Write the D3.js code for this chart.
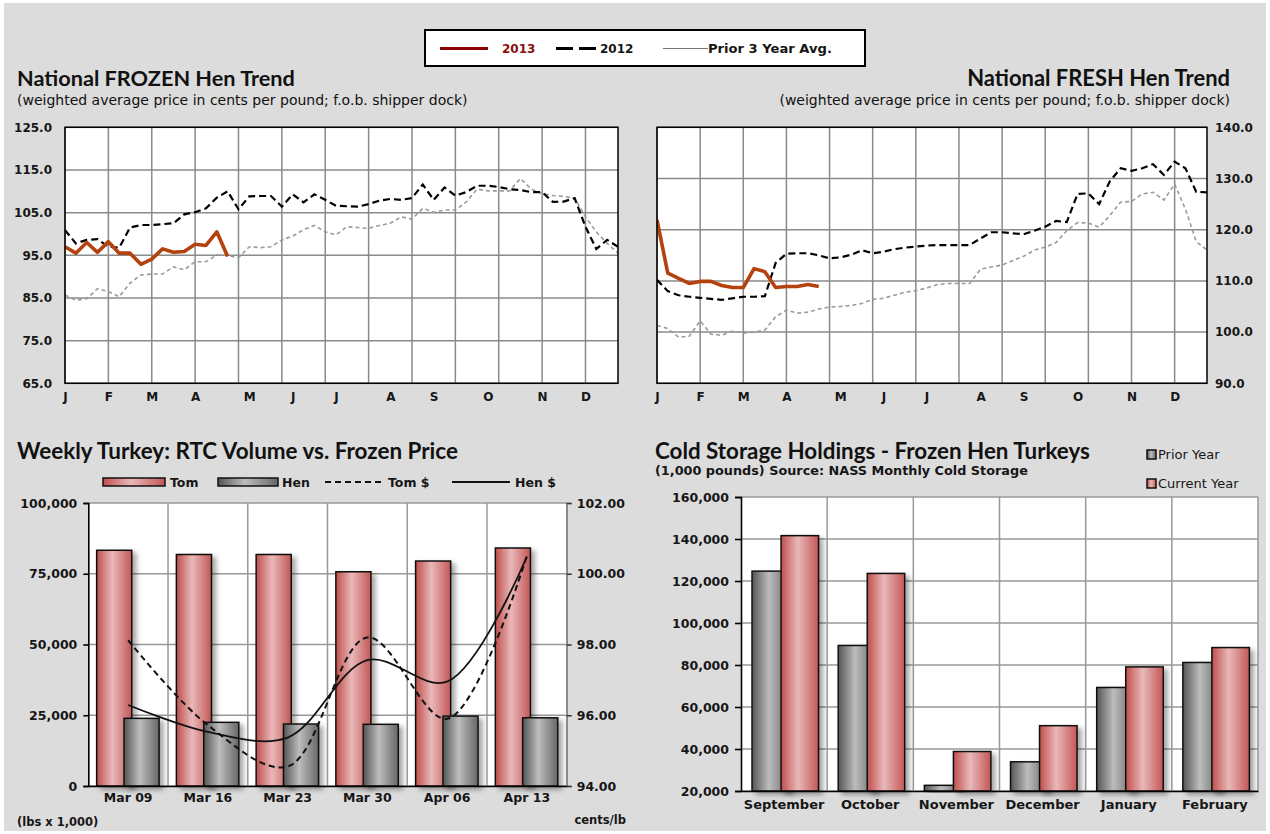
<!DOCTYPE html>
<html lang="en">
<head>
<meta charset="UTF-8">
<title>Turkey Hen Market Charts</title>
<script src="https://d3js.org/d3.v7.min.js"></script>
<style>
  body { margin: 0; background: #fff; }
  svg { display: block; font-family: "DejaVu Sans", sans-serif; }
  .lbl { font-weight: bold; fill: #161616; }
  .title { font-family: Lato, "DejaVu Sans", sans-serif; font-weight: bold; fill: #111; }
</style>
</head>
<body>
<div id="chart"></div>
<script>
// ---- weekly hen prices (index = week of year, 0..51) ----
const monthLabels = ["J", "F", "M", "A", "M", "J", "J", "A", "S", "O", "N", "D"];
const monthWeeks = [0, 4, 8, 12, 17, 21, 25, 30, 34, 39, 44, 48];
const frozenTicks = [65, 75, 85, 95, 105, 115, 125];
const freshTicks = [90, 100, 110, 120, 130, 140];

const frozen2013 = [97.0, 95.5, 98.0, 95.7, 98.2, 95.5, 95.5, 92.9, 94.1, 96.5, 95.7, 95.9, 97.6, 97.3, 100.5, 94.7];
const frozen2012 = [100.9, 97.8, 98.6, 98.8, 97.0, 96.8, 101.5, 102.1, 102.1, 102.3, 102.5, 104.6, 105.1, 106.0, 108.5, 110.0,
  105.8, 108.8, 108.9, 108.9, 106.4, 109.3, 107.4, 109.3, 108.0, 106.6, 106.5, 106.4, 107.0, 107.8, 108.2, 108.0, 108.4,
  111.6, 108.0, 110.9, 109.0, 109.8, 111.3, 111.3, 111.0, 110.5, 110.3, 109.8, 109.8, 107.5, 107.6, 108.4, 101.7, 96.5, 98.6, 97.0];
const frozen3yr = [85.7, 84.5, 84.8, 87.2, 86.5, 85.3, 88.5, 90.4, 90.6, 90.6, 92.3, 91.6, 93.5, 93.5, 95.1, 95.0,
  94.4, 97.0, 96.8, 97.0, 98.6, 99.5, 101.0, 102.0, 100.5, 99.8, 101.7, 101.5, 101.3, 102.0, 102.5, 104.0, 103.5,
  106.0, 105.1, 105.6, 105.6, 107.5, 110.5, 110.1, 110.1, 110.1, 113.0, 110.5, 109.5, 109.0, 108.8, 108.4, 104.0, 100.5, 97.8, 95.5];

const fresh2013 = [121.9, 111.5, 110.5, 109.5, 109.9, 109.9, 109.1, 108.7, 108.7, 112.4, 111.8, 108.7, 108.9, 108.9, 109.3, 108.9];
const fresh2012 = [110.2, 108.0, 107.2, 106.9, 106.7, 106.5, 106.3, 106.6, 106.9, 106.9, 107.0, 113.5, 115.3, 115.4, 115.4, 115.0,
  114.4, 114.6, 115.1, 116.0, 115.4, 115.7, 116.2, 116.5, 116.7, 116.9, 117.0, 117.0, 117.0, 117.0, 118.3, 119.5, 119.5,
  119.3, 119.1, 119.8, 120.6, 121.7, 121.5, 127.0, 127.1, 125.0, 129.5, 132.0, 131.5, 132.0, 132.8, 130.7, 133.3, 132.0, 127.4, 127.3];
const fresh3yr = [101.3, 100.7, 99.0, 99.2, 102.2, 99.6, 99.4, 100.2, 99.8, 100.0, 100.4, 103.0, 104.3, 103.7, 103.9, 104.5,
  104.9, 105.0, 105.2, 105.6, 106.4, 106.6, 107.2, 107.8, 108.1, 108.6, 109.3, 109.5, 109.5, 109.5, 112.3, 112.7, 113.1,
  114.0, 114.8, 116.0, 116.6, 117.5, 119.8, 121.4, 121.3, 120.5, 122.8, 125.4, 125.5, 127.0, 127.3, 125.8, 128.9, 124.0, 117.7, 116.0];

// ---- weekly RTC volume vs frozen price ----
const weekCats = ["Mar 09", "Mar 16", "Mar 23", "Mar 30", "Apr 06", "Apr 13"];
const tomVolume = [83300, 81800, 81800, 75700, 79500, 84100];
const henVolume = [23900, 22500, 21900, 21800, 24700, 24100];
const tomPrice = [98.12, 95.72, 94.55, 98.20, 95.90, 100.50];
const henPrice = [96.29, 95.53, 95.37, 97.56, 96.95, 100.48];
const volumeTicks = [0, 25000, 50000, 75000, 100000];
const priceTicks = [94, 96, 98, 100, 102];

// ---- cold storage ----
const storageMonths = ["September", "October", "November", "December", "January", "February"];
const priorYear = [124700, 89300, 22700, 33900, 69300, 81200];
const currentYear = [141600, 123600, 38800, 51100, 79100, 88300];
const storageTicks = [20000, 40000, 60000, 80000, 100000, 120000, 140000, 160000];

const W = 1270, H = 834;
const svg = d3.select("#chart").append("svg").attr("width", W).attr("height", H);

svg.append("rect").attr("x", 4).attr("y", 3).attr("width", W - 8).attr("height", H - 6).attr("fill", "#dcdcdc");

// gradients + shadow
const defs = svg.append("defs");
function gradient(id, stops) {
  const gr = defs.append("linearGradient").attr("id", id).attr("x1", 0).attr("x2", 1).attr("y1", 0).attr("y2", 0);
  stops.forEach(s => gr.append("stop").attr("offset", s[0]).attr("stop-color", s[1]));
}
gradient("pink", [["0%", "#bf4f4c"], ["45%", "#e9b8b9"], ["100%", "#c35755"]]);
gradient("gray", [["0%", "#555"], ["45%", "#bdbdbd"], ["100%", "#666"]]);
defs.append("filter").attr("id", "shadow").attr("x", "-20%").attr("y", "-10%").attr("width", "160%").attr("height", "130%")
  .append("feDropShadow").attr("dx", 4).attr("dy", 3).attr("stdDeviation", 2.5)
  .attr("flood-color", "#000").attr("flood-opacity", 0.35);

// scale a text's font size so it spans the given width
function fitText(sel, width) {
  const w = sel.node().getComputedTextLength();
  const fs = parseFloat(sel.style("font-size"));
  sel.style("font-size", (fs * width / w).toFixed(2) + "px");
  return sel;
}

function addText(x, y, str, cls, size, anchor, width) {
  const t = svg.append("text").attr("class", cls).attr("x", x).attr("y", y)
    .attr("text-anchor", anchor || "start").style("font-size", size + "px").text(str);
  if (width) fitText(t, width);
  return t;
}

// ---- top legend ----
svg.append("rect").attr("x", 425).attr("y", 30).attr("width", 440).attr("height", 36)
  .attr("fill", "#fff").attr("stroke", "#000").attr("stroke-width", 2);
svg.append("line").attr("x1", 440).attr("x2", 488).attr("y1", 48.5).attr("y2", 48.5)
  .attr("stroke", "#8b0000").attr("stroke-width", 3);
addText(502, 53, "2013", "lbl", 12).style("fill", "#8b1010");
svg.append("line").attr("x1", 556).attr("x2", 597).attr("y1", 48.5).attr("y2", 48.5)
  .attr("stroke", "#000").attr("stroke-width", 3).attr("stroke-dasharray", "17,6");
addText(600, 53, "2012", "lbl", 12);
svg.append("line").attr("x1", 663).attr("x2", 708).attr("y1", 48.5).attr("y2", 48.5)
  .attr("stroke", "#777").attr("stroke-width", 1.2);
addText(708, 53, "Prior 3 Year Avg.", "lbl", 12, "start", 124);

// ---- trend charts ----
function trendChart(o) {
  const x = d3.scaleLinear().domain([0, 51]).range([o.left, o.right]);
  const y = d3.scaleLinear().domain([o.ticks[0], o.ticks[o.ticks.length - 1]]).range([o.bottom, o.top]);
  const g = svg.append("g");

  g.append("rect").attr("x", o.left).attr("y", o.top).attr("width", o.right - o.left)
    .attr("height", o.bottom - o.top).attr("fill", "#fff");

  g.selectAll(".hg").data(o.ticks).join("line")
    .attr("x1", o.left).attr("x2", o.right).attr("y1", d => y(d)).attr("y2", d => y(d))
    .attr("stroke", "#8a8a8a").attr("stroke-width", 1.5);
  g.selectAll(".vg").data(d3.range(0, 51, 4)).join("line")
    .attr("x1", d => x(d)).attr("x2", d => x(d)).attr("y1", o.top).attr("y2", o.bottom)
    .attr("stroke", "#8a8a8a").attr("stroke-width", 1.5);

  const clipId = "clip" + o.left;
  defs.append("clipPath").attr("id", clipId).append("rect")
    .attr("x", o.left).attr("y", o.top).attr("width", o.right - o.left).attr("height", o.bottom - o.top);

  const line = d3.line().x((d, i) => x(i)).y(d => y(d));
  const lines = g.append("g").attr("clip-path", `url(#${clipId})`);
  lines.append("path").attr("d", line(o.avg)).attr("fill", "none")
    .attr("stroke", "#9b9b9b").attr("stroke-width", 1.6).attr("stroke-dasharray", "4,3");
  lines.append("path").attr("d", line(o.prev)).attr("fill", "none")
    .attr("stroke", "#000").attr("stroke-width", 2.2).attr("stroke-dasharray", "7,4");
  lines.append("path").attr("d", line(o.cur)).attr("fill", "none")
    .attr("stroke", "#b4420e").attr("stroke-width", 3.6).attr("stroke-linejoin", "round");

  g.append("rect").attr("x", o.left).attr("y", o.top).attr("width", o.right - o.left)
    .attr("height", o.bottom - o.top).attr("fill", "none").attr("stroke", "#000").attr("stroke-width", 1.5);

  const yAxis = (o.side === "left" ? d3.axisLeft(y) : d3.axisRight(y))
    .tickValues(o.ticks).tickFormat(d3.format(".1f")).tickSize(0).tickPadding(o.side === "left" ? 13 : 8);
  g.append("g").attr("transform", `translate(${o.side === "left" ? o.left : o.right},0)`).call(yAxis)
    .call(a => a.select(".domain").remove())
    .selectAll("text").attr("class", "lbl").style("font-size", "12px").style("font-family", "DejaVu Sans");

  g.append("g").attr("transform", `translate(0,${o.bottom})`)
    .call(d3.axisBottom(x).tickValues(monthWeeks).tickFormat((d, i) => monthLabels[i]).tickSize(0).tickPadding(9))
    .call(a => a.select(".domain").remove())
    .selectAll("text").attr("class", "lbl").style("font-size", "12px").style("font-family", "DejaVu Sans");
}

trendChart({ left: 65, right: 618, top: 127.3, bottom: 383.3, ticks: frozenTicks, side: "left",
  cur: frozen2013, prev: frozen2012, avg: frozen3yr });
trendChart({ left: 657, right: 1207, top: 127.3, bottom: 383.3, ticks: freshTicks, side: "right",
  cur: fresh2013, prev: fresh2012, avg: fresh3yr });

addText(17, 86, "National FROZEN Hen Trend", "title", 18, "start", 278);
addText(17, 105, "(weighted average price in cents per pound; f.o.b. shipper dock)", "", 11, "start", 451).style("fill", "#111");
addText(1230, 86, "National FRESH Hen Trend", "title", 18, "end", 263);
addText(1230, 105, "(weighted average price in cents per pound; f.o.b. shipper dock)", "", 11, "end", 451).style("fill", "#111");

// ---- weekly RTC volume vs frozen price ----
(function () {
  const left = 88.3, right = 566.7, top = 503, bottom = 786;
  const x = d3.scaleBand().domain(weekCats).range([left, right]);
  const bw = x.bandwidth();
  const yL = d3.scaleLinear().domain([0, 100000]).range([bottom, top]);
  const yR = d3.scaleLinear().domain([94, 102]).range([bottom, top]);
  const g = svg.append("g");

  g.append("rect").attr("x", left).attr("y", top).attr("width", right - left).attr("height", bottom - top).attr("fill", "#fff");
  g.selectAll(".hg").data(volumeTicks).join("line")
    .attr("x1", left).attr("x2", right).attr("y1", d => yL(d)).attr("y2", d => yL(d))
    .attr("stroke", "#999").attr("stroke-width", 1.5);
  g.selectAll(".vg").data(weekCats.slice(1).map(c => x(c)).concat([right])).join("line")
    .attr("x1", d => d).attr("x2", d => d).attr("y1", top).attr("y2", bottom)
    .attr("stroke", "#999").attr("stroke-width", 1.5);

  g.selectAll(".tom").data(tomVolume).join("rect")
    .attr("x", (d, i) => x(weekCats[i]) + bw * 0.105).attr("width", bw * 0.44)
    .attr("y", d => yL(d)).attr("height", d => bottom - yL(d))
    .attr("fill", "url(#pink)").attr("stroke", "#111").attr("stroke-width", 1.5).attr("filter", "url(#shadow)");
  g.selectAll(".hen").data(henVolume).join("rect")
    .attr("x", (d, i) => x(weekCats[i]) + bw * 0.448).attr("width", bw * 0.44)
    .attr("y", d => yL(d)).attr("height", d => bottom - yL(d))
    .attr("fill", "url(#gray)").attr("stroke", "#111").attr("stroke-width", 1.5).attr("filter", "url(#shadow)");

  const line = d3.line().curve(d3.curveCatmullRom.alpha(0.5))
    .x((d, i) => x(weekCats[i]) + bw / 2).y(d => yR(d));
  g.append("path").attr("d", line(tomPrice)).attr("fill", "none")
    .attr("stroke", "#111").attr("stroke-width", 2).attr("stroke-dasharray", "6,4");
  g.append("path").attr("d", line(henPrice)).attr("fill", "none")
    .attr("stroke", "#111").attr("stroke-width", 1.8);

  g.append("g").attr("transform", `translate(${right},0)`)
    .call(d3.axisRight(yR).tickValues(priceTicks).tickFormat(d3.format(".2f")).tickSize(5).tickPadding(5))
    .call(a => a.select(".domain").attr("stroke", "#888").attr("stroke-width", 1.5))
    .call(a => a.selectAll("line").attr("stroke", "#333").attr("stroke-width", 1.5))
    .selectAll("text").attr("class", "lbl").style("font-size", "12.5px").style("font-family", "DejaVu Sans");
  g.append("g").attr("transform", `translate(${left},0)`)
    .call(d3.axisLeft(yL).tickValues(volumeTicks).tickFormat(d3.format(",")).tickSize(5).tickPadding(6))
    .call(a => a.selectAll("path,line").attr("stroke", "#000").attr("stroke-width", 1.6))
    .selectAll("text").attr("class", "lbl").style("font-size", "12.5px").style("font-family", "DejaVu Sans");
  g.append("g").attr("transform", `translate(0,${bottom})`)
    .call(d3.axisBottom(x).tickSize(0).tickPadding(7))
    .call(a => a.select(".domain").attr("stroke", "#000").attr("stroke-width", 1.6))
    .selectAll("text").attr("class", "lbl").style("font-size", "12.5px").style("font-family", "DejaVu Sans");

  // legend
  const ly = 482;
  g.append("rect").attr("x", 103).attr("y", ly - 4).attr("width", 62).attr("height", 8)
    .attr("fill", "url(#pink)").attr("stroke", "#111").attr("stroke-width", 1.5);
  addText(170, ly + 4.5, "Tom", "lbl", 12.5);
  g.append("rect").attr("x", 218).attr("y", ly - 4).attr("width", 60).attr("height", 8)
    .attr("fill", "url(#gray)").attr("stroke", "#111").attr("stroke-width", 1.5);
  addText(282, ly + 4.5, "Hen", "lbl", 12.5);
  g.append("line").attr("x1", 325).attr("x2", 383).attr("y1", ly).attr("y2", ly)
    .attr("stroke", "#111").attr("stroke-width", 1.8).attr("stroke-dasharray", "6,4");
  addText(388, ly + 4.5, "Tom $", "lbl", 12.5);
  g.append("line").attr("x1", 452).attr("x2", 510).attr("y1", ly).attr("y2", ly)
    .attr("stroke", "#111").attr("stroke-width", 1.8);
  addText(515, ly + 4.5, "Hen $", "lbl", 12.5);

  addText(17, 826, "(lbs x 1,000)", "lbl", 11.5);
  addText(626, 824, "cents/lb", "lbl", 11.5, "end");
})();
addText(17, 459, "Weekly Turkey: RTC Volume vs. Frozen Price", "title", 18, "start", 441);

// ---- cold storage ----
(function () {
  const left = 741, right = 1258, top = 497, bottom = 791;
  const x = d3.scaleBand().domain(storageMonths).range([left, right]);
  const bw = x.bandwidth();
  const y = d3.scaleLinear().domain([20000, 160000]).range([bottom, top]);
  const g = svg.append("g");

  g.append("rect").attr("x", left).attr("y", top).attr("width", right - left).attr("height", bottom - top).attr("fill", "#fff");
  g.selectAll(".hg").data(storageTicks).join("line")
    .attr("x1", left).attr("x2", right).attr("y1", d => y(d)).attr("y2", d => y(d))
    .attr("stroke", "#999").attr("stroke-width", 1.5);
  g.selectAll(".vg").data(storageMonths.slice(1).map(c => x(c)).concat([right])).join("line")
    .attr("x1", d => d).attr("x2", d => d).attr("y1", top).attr("y2", bottom)
    .attr("stroke", "#999").attr("stroke-width", 1.5);

  g.selectAll(".prior").data(priorYear).join("rect")
    .attr("x", (d, i) => x(storageMonths[i]) + bw * 0.128).attr("width", bw * 0.435)
    .attr("y", d => y(d)).attr("height", d => bottom - y(d))
    .attr("fill", "url(#gray)").attr("stroke", "#111").attr("stroke-width", 1.5).attr("filter", "url(#shadow)");
  g.selectAll(".current").data(currentYear).join("rect")
    .attr("x", (d, i) => x(storageMonths[i]) + bw * 0.465).attr("width", bw * 0.435)
    .attr("y", d => y(d)).attr("height", d => bottom - y(d))
    .attr("fill", "url(#pink)").attr("stroke", "#111").attr("stroke-width", 1.5).attr("filter", "url(#shadow)");

  g.append("g").attr("transform", `translate(${left},0)`)
    .call(d3.axisLeft(y).tickValues(storageTicks).tickFormat(d3.format(",")).tickSize(6).tickPadding(6))
    .call(a => a.selectAll("path,line").attr("stroke", "#000").attr("stroke-width", 1.6))
    .selectAll("text").attr("class", "lbl").style("font-size", "12.5px").style("font-family", "DejaVu Sans");
  g.append("g").attr("transform", `translate(0,${bottom})`)
    .call(d3.axisBottom(x).tickSize(0).tickPadding(9))
    .call(a => a.select(".domain").attr("stroke", "#000").attr("stroke-width", 1.6))
    .selectAll("text").attr("class", "lbl").style("font-size", "13px").style("font-family", "DejaVu Sans");

  // legend
  g.append("rect").attr("x", 1147).attr("y", 450).attr("width", 9).attr("height", 9)
    .attr("fill", "url(#gray)").attr("stroke", "#111").attr("stroke-width", 1.5);
  addText(1158, 459, "Prior Year", "", 13).style("fill", "#161616");
  g.append("rect").attr("x", 1147).attr("y", 479).attr("width", 9).attr("height", 9)
    .attr("fill", "url(#pink)").attr("stroke", "#111").attr("stroke-width", 1.5);
  addText(1158, 488, "Current Year", "", 13).style("fill", "#161616");
})();
addText(655, 459, "Cold Storage Holdings - Frozen Hen Turkeys", "title", 18, "start", 435);
addText(655, 475, "(1,000 pounds) Source: NASS Monthly Cold Storage", "lbl", 11, "start", 373);
</script>
</body>
</html>
